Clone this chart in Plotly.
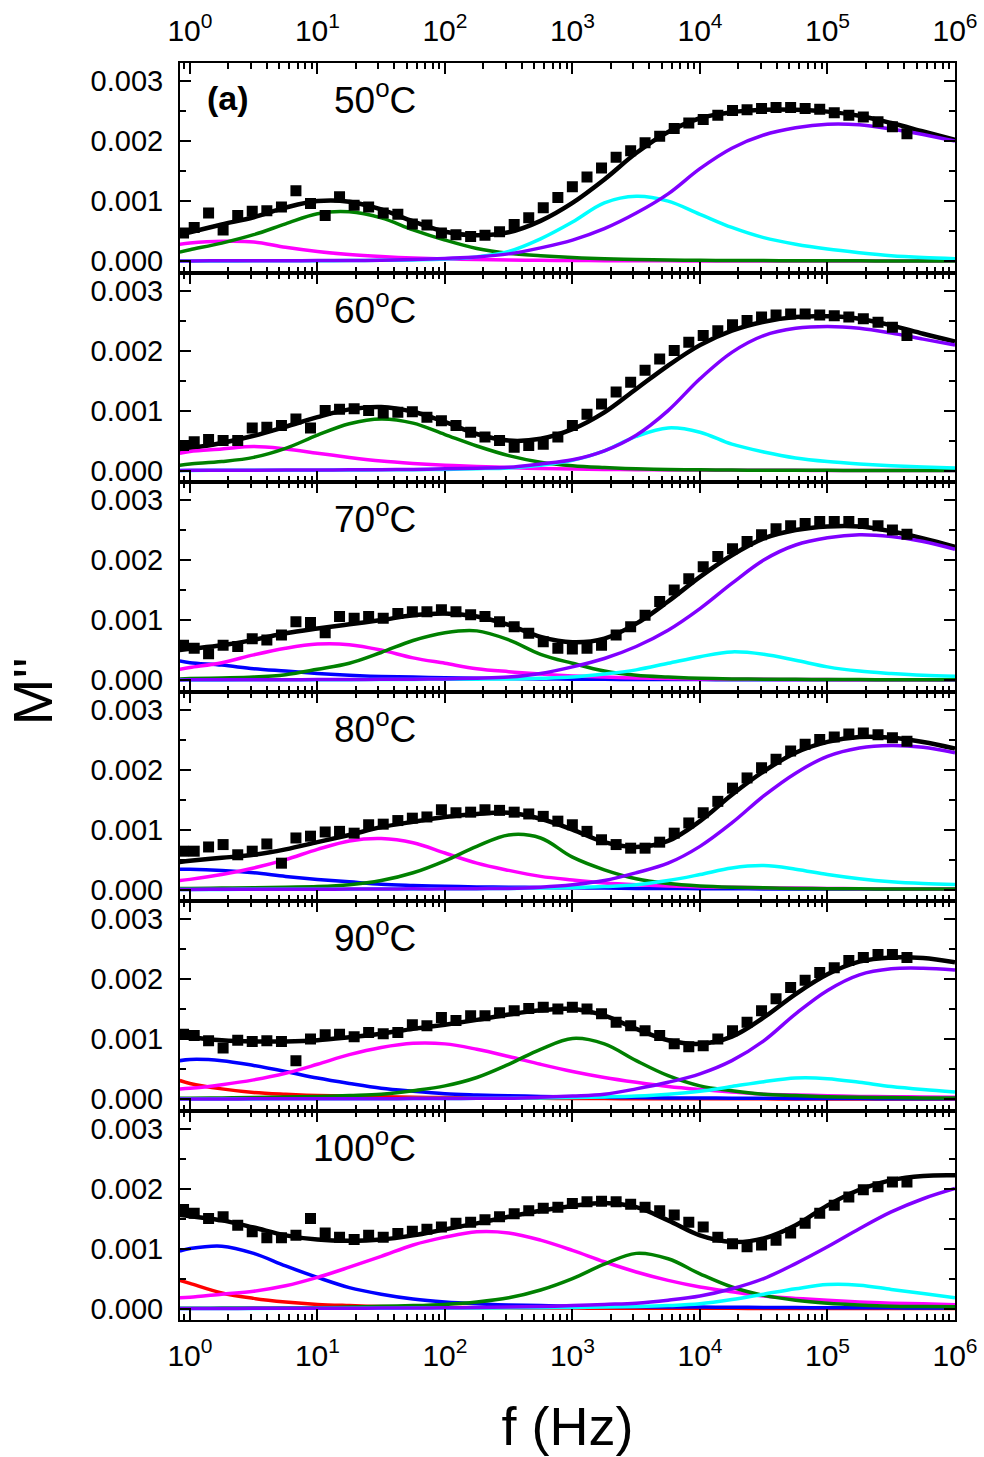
import plotly.graph_objects as go
from plotly.subplots import make_subplots

# Measurement frequencies (Hz)
FREQ = [0.891, 1.08, 1.40, 1.82, 2.37, 3.08, 4.01, 5.22, 6.78, 8.82,
        11.5, 14.9, 19.4, 25.2, 32.8, 42.7, 55.5, 72.2, 93.8, 122,
        159, 206, 268, 349, 454, 590, 768, 998, 1300, 1690,
        2200, 2860, 3710, 4830, 6280, 8170, 10600, 13800, 18000, 23400,
        30400, 39500, 51400, 66800, 86900, 113000, 147000, 191000, 249000, 323000,
        420000]

# Frequencies at which the fitted curves are tabulated (Hz)
FIT_FREQ = [0.832, 1, 1.778, 3.162, 5.623, 10, 17.78, 31.62, 56.23, 100,
            177.8, 316.2, 562.3, 1000, 1778, 3162, 5623, 10000, 17780, 31620,
            56230, 100000, 177800, 316200, 562300, 1000000]

SCALE = 1e-3  # all M'' values below are given in units of 1e-3

# ---- 50 C ----
DATA_50 = [0.47, 0.56, 0.80, 0.52, 0.76, 0.83, 0.84, 0.90, 1.17, 0.96, 0.76, 1.07, 0.93, 0.90, 0.80, 0.78, 0.62,
           0.60, 0.47, 0.44, 0.41, 0.43, 0.49, 0.61, 0.72, 0.89, 1.06, 1.24, 1.40, 1.55, 1.73, 1.84, 1.97, 2.08,
           2.21, 2.30, 2.36, 2.43, 2.51, 2.52, 2.54, 2.56, 2.56, 2.54, 2.53, 2.47, 2.43, 2.40, 2.32, 2.24, 2.12]
FIT_50 = [0.44, 0.48, 0.61, 0.73, 0.89, 1.00, 0.99, 0.86, 0.66, 0.49, 0.43, 0.48, 0.67, 0.97, 1.36, 1.80, 2.15,
          2.38, 2.48, 2.52, 2.52, 2.49, 2.42, 2.30, 2.16, 2.02]
MAG_50 = [0.28, 0.30, 0.33, 0.32, 0.23, 0.16, 0.11, 0.075, 0.05, 0.035, 0.025, 0.018, 0.012, 0.009, 0.007, 0.005,
          0.004, 0.003, 0.002, 0.002, 0.001, 0.001, 0.001, 0.001, 0.001, 0.001]
GRN_50 = [0.15, 0.19, 0.30, 0.44, 0.62, 0.79, 0.82, 0.72, 0.52, 0.35, 0.21, 0.13, 0.09, 0.06, 0.04, 0.025, 0.018,
          0.012, 0.01, 0.008, 0.006, 0.005, 0.004, 0.003, 0.003, 0.002]
CYN_50 = [0.002, 0.002, 0.003, 0.004, 0.005, 0.006, 0.008, 0.012, 0.02, 0.035, 0.07, 0.16, 0.37, 0.65, 0.97, 1.08,
          1.00, 0.78, 0.56, 0.39, 0.28, 0.20, 0.14, 0.09, 0.06, 0.04]
VIO_50 = [0.003, 0.003, 0.004, 0.005, 0.006, 0.008, 0.01, 0.013, 0.025, 0.045, 0.07, 0.12, 0.22, 0.35, 0.54, 0.80,
          1.12, 1.54, 1.88, 2.10, 2.22, 2.28, 2.27, 2.20, 2.11, 2.00]

# ---- 60 C ----
DATA_60 = [0.42, 0.48, 0.52, 0.50, 0.50, 0.71, 0.72, 0.75, 0.86, 0.71, 1.00, 1.02, 1.03, 1.00, 0.96, 0.97, 0.98,
           0.89, 0.83, 0.75, 0.64, 0.56, 0.50, 0.39, 0.42, 0.44, 0.56, 0.75, 0.94, 1.11, 1.31, 1.47, 1.67, 1.86,
           2.00, 2.14, 2.25, 2.33, 2.43, 2.50, 2.56, 2.59, 2.61, 2.61, 2.59, 2.58, 2.56, 2.53, 2.47, 2.39, 2.25]
FIT_60 = [0.34, 0.37, 0.46, 0.58, 0.73, 0.89, 1.02, 1.06, 0.98, 0.81, 0.61, 0.50, 0.53, 0.69, 0.97, 1.36, 1.75,
          2.09, 2.33, 2.48, 2.56, 2.57, 2.53, 2.42, 2.28, 2.15]
MAG_60 = [0.29, 0.32, 0.36, 0.40, 0.36, 0.29, 0.22, 0.16, 0.12, 0.09, 0.07, 0.05, 0.035, 0.025, 0.02, 0.015,
          0.011, 0.008, 0.006, 0.005, 0.004, 0.003, 0.003, 0.002, 0.002, 0.002]
GRN_60 = [0.09, 0.11, 0.15, 0.22, 0.37, 0.59, 0.78, 0.86, 0.79, 0.60, 0.41, 0.25, 0.14, 0.08, 0.05, 0.03, 0.02,
          0.012, 0.008, 0.006, 0.005, 0.004, 0.003, 0.003, 0.002, 0.002]
CYN_60 = [0.003, 0.003, 0.004, 0.005, 0.006, 0.007, 0.009, 0.012, 0.015, 0.02, 0.03, 0.045, 0.09, 0.17, 0.33, 0.57,
          0.71, 0.64, 0.44, 0.31, 0.21, 0.15, 0.11, 0.08, 0.06, 0.045]
VIO_60 = [0.003, 0.004, 0.005, 0.006, 0.008, 0.01, 0.012, 0.015, 0.02, 0.03, 0.04, 0.055, 0.11, 0.18, 0.33, 0.59,
          1.00, 1.53, 1.97, 2.25, 2.37, 2.40, 2.37, 2.29, 2.19, 2.09]

# ---- 70 C ----
DATA_70 = [0.58, 0.53, 0.44, 0.58, 0.56, 0.69, 0.67, 0.75, 0.97, 0.96, 0.79, 1.06, 1.03, 1.06, 1.03, 1.11, 1.14,
           1.14, 1.17, 1.14, 1.09, 1.06, 0.97, 0.89, 0.78, 0.64, 0.53, 0.52, 0.53, 0.58, 0.75, 0.89, 1.08, 1.31,
           1.50, 1.69, 1.89, 2.06, 2.19, 2.31, 2.42, 2.52, 2.57, 2.61, 2.64, 2.64, 2.64, 2.61, 2.57, 2.50, 2.43]
FIT_70 = [0.50, 0.52, 0.58, 0.67, 0.78, 0.86, 0.93, 1.00, 1.08, 1.11, 1.06, 0.92, 0.72, 0.63, 0.69, 0.94, 1.31,
          1.72, 2.08, 2.36, 2.50, 2.56, 2.56, 2.48, 2.36, 2.22]
BLU_70 = [0.32, 0.29, 0.25, 0.19, 0.15, 0.11, 0.08, 0.06, 0.05, 0.04, 0.03, 0.025, 0.02, 0.015, 0.012, 0.01, 0.01,
          0.008, 0.007, 0.006, 0.005, 0.005, 0.004, 0.004, 0.004, 0.003]
MAG_70 = [0.18, 0.21, 0.29, 0.42, 0.53, 0.60, 0.59, 0.50, 0.37, 0.28, 0.19, 0.14, 0.10, 0.07, 0.05, 0.035, 0.028,
          0.02, 0.016, 0.013, 0.01, 0.008, 0.007, 0.006, 0.005, 0.005]
GRN_70 = [0.02, 0.025, 0.035, 0.05, 0.09, 0.18, 0.28, 0.46, 0.66, 0.79, 0.82, 0.67, 0.43, 0.28, 0.15, 0.08, 0.05,
          0.03, 0.02, 0.015, 0.012, 0.01, 0.008, 0.007, 0.006, 0.005]
CYN_70 = [0.002, 0.003, 0.003, 0.004, 0.005, 0.006, 0.007, 0.009, 0.011, 0.013, 0.016, 0.02, 0.03, 0.05, 0.10,
          0.17, 0.28, 0.39, 0.47, 0.43, 0.33, 0.22, 0.15, 0.11, 0.08, 0.065]
VIO_70 = [0.003, 0.004, 0.004, 0.005, 0.006, 0.008, 0.01, 0.012, 0.016, 0.02, 0.03, 0.05, 0.11, 0.22, 0.36, 0.56,
          0.83, 1.19, 1.61, 2.00, 2.25, 2.37, 2.42, 2.39, 2.31, 2.18]

# ---- 80 C ----
DATA_80 = [0.64, 0.64, 0.71, 0.75, 0.58, 0.64, 0.76, 0.44, 0.86, 0.89, 0.96, 0.97, 0.94, 1.08, 1.09, 1.15, 1.19,
           1.21, 1.33, 1.28, 1.29, 1.33, 1.32, 1.29, 1.26, 1.22, 1.14, 1.08, 0.97, 0.83, 0.75, 0.69, 0.69, 0.79,
           0.94, 1.11, 1.28, 1.47, 1.69, 1.86, 2.03, 2.17, 2.31, 2.42, 2.50, 2.54, 2.59, 2.61, 2.58, 2.53, 2.47]
FIT_80 = [0.46, 0.48, 0.53, 0.58, 0.67, 0.79, 0.91, 1.04, 1.13, 1.21, 1.26, 1.28, 1.18, 1.00, 0.79, 0.71, 0.81,
          1.14, 1.58, 1.97, 2.28, 2.46, 2.54, 2.53, 2.46, 2.35]
BLU_80 = [0.34, 0.34, 0.32, 0.28, 0.22, 0.17, 0.13, 0.09, 0.07, 0.055, 0.045, 0.04, 0.035, 0.03, 0.025, 0.02,
          0.018, 0.015, 0.013, 0.011, 0.01, 0.009, 0.008, 0.007, 0.006, 0.005]
MAG_80 = [0.15, 0.17, 0.25, 0.36, 0.50, 0.67, 0.81, 0.85, 0.78, 0.61, 0.44, 0.32, 0.22, 0.16, 0.11, 0.08, 0.06,
          0.045, 0.037, 0.03, 0.025, 0.02, 0.016, 0.012, 0.01, 0.008]
GRN_80 = [0.02, 0.02, 0.025, 0.03, 0.04, 0.05, 0.08, 0.15, 0.28, 0.48, 0.72, 0.91, 0.86, 0.54, 0.33, 0.18, 0.10,
          0.06, 0.04, 0.03, 0.02, 0.015, 0.012, 0.01, 0.01, 0.008]
CYN_80 = [0.002, 0.003, 0.003, 0.004, 0.005, 0.006, 0.007, 0.009, 0.011, 0.013, 0.016, 0.02, 0.027, 0.035, 0.05,
          0.08, 0.15, 0.25, 0.36, 0.40, 0.34, 0.25, 0.18, 0.13, 0.10, 0.083]
VIO_80 = [0.003, 0.003, 0.004, 0.005, 0.006, 0.006, 0.008, 0.01, 0.012, 0.012, 0.016, 0.02, 0.04, 0.08, 0.15, 0.28,
          0.44, 0.72, 1.11, 1.56, 1.94, 2.22, 2.36, 2.40, 2.37, 2.28]

# ---- 90 C ----
DATA_90 = [1.08, 1.06, 0.97, 0.85, 0.98, 0.96, 0.97, 0.96, 0.64, 1.00, 1.07, 1.08, 1.04, 1.11, 1.09, 1.11, 1.24,
           1.22, 1.36, 1.31, 1.39, 1.39, 1.44, 1.47, 1.51, 1.53, 1.50, 1.53, 1.50, 1.42, 1.28, 1.22, 1.14, 1.06,
           0.92, 0.87, 0.89, 1.00, 1.14, 1.28, 1.47, 1.67, 1.86, 1.98, 2.11, 2.19, 2.31, 2.36, 2.41, 2.41, 2.36]
FIT_90 = [1.04, 1.03, 0.98, 0.96, 0.96, 0.98, 1.03, 1.09, 1.17, 1.24, 1.32, 1.41, 1.48, 1.50, 1.39, 1.17, 0.98,
          0.92, 1.04, 1.36, 1.75, 2.08, 2.29, 2.36, 2.35, 2.28]
RED_90 = [0.31, 0.26, 0.17, 0.11, 0.08, 0.06, 0.05, 0.04, 0.03, 0.025, 0.02, 0.016, 0.013, 0.01, 0.008, 0.007,
          0.006, 0.005, 0.004, 0.004, 0.003, 0.003, 0.003, 0.002, 0.002, 0.002]
BLU_90 = [0.64, 0.66, 0.64, 0.56, 0.46, 0.35, 0.26, 0.18, 0.13, 0.09, 0.07, 0.055, 0.045, 0.035, 0.03, 0.025,
          0.02, 0.02, 0.015, 0.013, 0.011, 0.01, 0.008, 0.007, 0.006, 0.005]
MAG_90 = [0.17, 0.18, 0.24, 0.32, 0.43, 0.58, 0.74, 0.86, 0.93, 0.92, 0.83, 0.71, 0.58, 0.46, 0.36, 0.28, 0.21,
          0.16, 0.12, 0.08, 0.07, 0.055, 0.045, 0.04, 0.035, 0.03]
GRN_90 = [0.012, 0.015, 0.02, 0.025, 0.035, 0.045, 0.06, 0.08, 0.14, 0.22, 0.36, 0.58, 0.83, 1.01, 0.92, 0.64,
          0.39, 0.22, 0.14, 0.08, 0.06, 0.04, 0.03, 0.025, 0.02, 0.02]
CYN_90 = [0.002, 0.002, 0.003, 0.003, 0.004, 0.005, 0.006, 0.007, 0.008, 0.01, 0.012, 0.015, 0.02, 0.025, 0.035,
          0.05, 0.08, 0.13, 0.21, 0.29, 0.35, 0.34, 0.28, 0.21, 0.16, 0.12]
VIO_90 = [0.003, 0.003, 0.003, 0.004, 0.004, 0.005, 0.006, 0.007, 0.008, 0.01, 0.012, 0.015, 0.03, 0.05, 0.08,
          0.17, 0.28, 0.42, 0.64, 0.97, 1.42, 1.81, 2.07, 2.17, 2.18, 2.15]

# ---- 100 C ----
DATA_100 = [1.65, 1.59, 1.50, 1.53, 1.39, 1.28, 1.18, 1.18, 1.22, 1.50, 1.26, 1.19, 1.15, 1.22, 1.19, 1.25, 1.29,
            1.32, 1.36, 1.42, 1.44, 1.48, 1.53, 1.58, 1.63, 1.67, 1.69, 1.75, 1.78, 1.79, 1.78, 1.74, 1.69, 1.63,
            1.56, 1.44, 1.36, 1.19, 1.08, 1.03, 1.06, 1.14, 1.26, 1.42, 1.59, 1.72, 1.86, 1.98, 2.03, 2.11, 2.11]
FIT_100 = [1.56, 1.54, 1.47, 1.35, 1.22, 1.15, 1.13, 1.15, 1.22, 1.32, 1.42, 1.53, 1.63, 1.71, 1.76, 1.69, 1.47,
           1.22, 1.11, 1.17, 1.39, 1.72, 1.98, 2.14, 2.21, 2.22]
RED_100 = [0.47, 0.42, 0.26, 0.17, 0.11, 0.07, 0.05, 0.035, 0.025, 0.02, 0.015, 0.012, 0.01, 0.008, 0.007, 0.006,
           0.005, 0.004, 0.004, 0.003, 0.003, 0.003, 0.002, 0.002, 0.002, 0.002]
BLU_100 = [0.96, 1.00, 1.04, 0.92, 0.71, 0.52, 0.35, 0.24, 0.16, 0.11, 0.08, 0.06, 0.05, 0.04, 0.035, 0.03, 0.027,
           0.025, 0.022, 0.02, 0.017, 0.015, 0.013, 0.012, 0.011, 0.01]
MAG_100 = [0.18, 0.19, 0.24, 0.29, 0.38, 0.52, 0.69, 0.87, 1.06, 1.19, 1.28, 1.26, 1.14, 0.97, 0.78, 0.61, 0.47,
           0.36, 0.28, 0.21, 0.17, 0.14, 0.11, 0.09, 0.08, 0.065]
GRN_100 = [0.005, 0.006, 0.008, 0.01, 0.012, 0.015, 0.025, 0.04, 0.05, 0.07, 0.11, 0.18, 0.31, 0.50, 0.74, 0.92,
           0.83, 0.58, 0.36, 0.22, 0.14, 0.09, 0.06, 0.04, 0.035, 0.03]
CYN_100 = [0.002, 0.002, 0.003, 0.003, 0.004, 0.005, 0.006, 0.007, 0.008, 0.009, 0.01, 0.012, 0.015, 0.02, 0.028,
           0.035, 0.05, 0.08, 0.15, 0.24, 0.33, 0.40, 0.39, 0.32, 0.25, 0.18]
VIO_100 = [0.003, 0.003, 0.003, 0.004, 0.004, 0.005, 0.006, 0.008, 0.01, 0.012, 0.018, 0.025, 0.035, 0.05, 0.07,
           0.09, 0.14, 0.21, 0.33, 0.50, 0.75, 1.03, 1.33, 1.61, 1.83, 2.00]

TEMPERATURES = ["50", "60", "70", "80", "90", "100"]

COLORS = {
    "red": "#ff0000",
    "blue": "#0000ff",
    "magenta": "#ff00ff",
    "green": "#008000",
    "cyan": "#00ffff",
    "violet": "#8000ff",
}

PANELS = [
    (DATA_50, FIT_50, [("magenta", MAG_50), ("green", GRN_50), ("cyan", CYN_50), ("violet", VIO_50)]),
    (DATA_60, FIT_60, [("magenta", MAG_60), ("green", GRN_60), ("cyan", CYN_60), ("violet", VIO_60)]),
    (DATA_70, FIT_70, [("blue", BLU_70), ("magenta", MAG_70), ("green", GRN_70), ("cyan", CYN_70),
                       ("violet", VIO_70)]),
    (DATA_80, FIT_80, [("blue", BLU_80), ("magenta", MAG_80), ("green", GRN_80), ("cyan", CYN_80),
                       ("violet", VIO_80)]),
    (DATA_90, FIT_90, [("red", RED_90), ("blue", BLU_90), ("magenta", MAG_90), ("green", GRN_90),
                       ("cyan", CYN_90), ("violet", VIO_90)]),
    (DATA_100, FIT_100, [("red", RED_100), ("blue", BLU_100), ("magenta", MAG_100), ("green", GRN_100),
                         ("cyan", CYN_100), ("violet", VIO_100)]),
]

FONT = "Liberation Sans, Arial, sans-serif"


def scaled(values):
    return [v * SCALE for v in values]


fig = make_subplots(rows=6, cols=1, shared_xaxes=True, vertical_spacing=0)

for row, (data, fit, comps) in enumerate(PANELS, start=1):
    fig.add_trace(go.Scatter(x=FIT_FREQ, y=scaled(fit), mode="lines",
                             line=dict(color="black", width=4.5, shape="spline"),
                             showlegend=False, hoverinfo="skip"), row=row, col=1)
    for cname, vals in comps:
        fig.add_trace(go.Scatter(x=FIT_FREQ, y=scaled(vals), mode="lines",
                                 line=dict(color=COLORS[cname], width=3.5, shape="spline"),
                                 showlegend=False, hoverinfo="skip"), row=row, col=1)
    fig.add_trace(go.Scatter(x=FREQ, y=scaled(data), mode="markers",
                             marker=dict(symbol="square", size=11, color="black", line=dict(width=0)),
                             showlegend=False), row=row, col=1)

# axis styling
decades = [10 ** d for d in range(0, 7)]
dec_text = [f"10<sup>{d}</sup>" for d in range(0, 7)]
minor_x = [m * 10 ** d for d in range(-1, 6) for m in range(2, 10)]

fig.update_xaxes(type="log", range=[-0.078, 6.0], automargin=False,
                 tickmode="array", tickvals=decades, ticktext=dec_text,
                 ticks="inside", ticklen=11, tickwidth=2, tickcolor="black",
                 showline=True, linewidth=2, linecolor="black", mirror="allticks",
                 showgrid=False, zeroline=False,
                 minor=dict(tickmode="array", tickvals=minor_x, ticks="inside",
                            ticklen=6, tickwidth=1.5, tickcolor="black", showgrid=False),
                 tickfont=dict(family=FONT, size=30, color="black"),
                 ticklabelstandoff=8,
                 showticklabels=False)
fig.update_xaxes(showticklabels=True, side="top", row=1, col=1)
fig.update_xaxes(showticklabels=True, row=6, col=1,
                 title=dict(text="f (Hz)", font=dict(family=FONT, size=54, color="black"), standoff=36))

fig.update_yaxes(range=[-0.00019, 0.0033], automargin=False,
                 tickmode="array", tickvals=[0, 0.001, 0.002, 0.003],
                 ticktext=["0.000", "0.001", "0.002", "0.003"],
                 ticks="inside", ticklen=11, tickwidth=2, tickcolor="black",
                 showline=True, linewidth=2, linecolor="black", mirror="allticks",
                 showgrid=False, zeroline=False,
                 minor=dict(tickmode="array", tickvals=[0.0005, 0.0015, 0.0025], ticks="inside",
                            ticklen=6, tickwidth=2, tickcolor="black", showgrid=False),
                 tickfont=dict(family=FONT, size=29, color="black"),
                 ticklabelstandoff=9)

annotations = []
for row, temp in enumerate(TEMPERATURES, start=1):
    yref = "y domain" if row == 1 else f"y{row} domain"
    xref = "x domain" if row == 1 else f"x{row} domain"
    annotations.append(dict(text=f"{temp}<sup>o</sup>C", x=0.3075, y=0.835, xref=xref, yref=yref,
                            xanchor="right", yanchor="middle", showarrow=False,
                            font=dict(family=FONT, size=37, color="black")))
annotations.append(dict(text="<b>(a)</b>", x=0.032, y=0.835, xref="x domain", yref="y domain",
                        xanchor="left", yanchor="middle", showarrow=False,
                        font=dict(family=FONT, size=34, color="black")))
annotations.append(dict(text="M''", x=-0.19, y=0.5, xref="paper", yref="paper",
                        xanchor="center", yanchor="middle", textangle=-90, showarrow=False,
                        font=dict(family=FONT, size=56, color="black")))

fig.update_layout(width=984, height=1457,
                  margin=dict(l=180, r=29, t=63, b=137),
                  plot_bgcolor="white", paper_bgcolor="white",
                  font=dict(family=FONT, color="black"),
                  annotations=annotations, showlegend=False)

fig.write_html("out.html")
